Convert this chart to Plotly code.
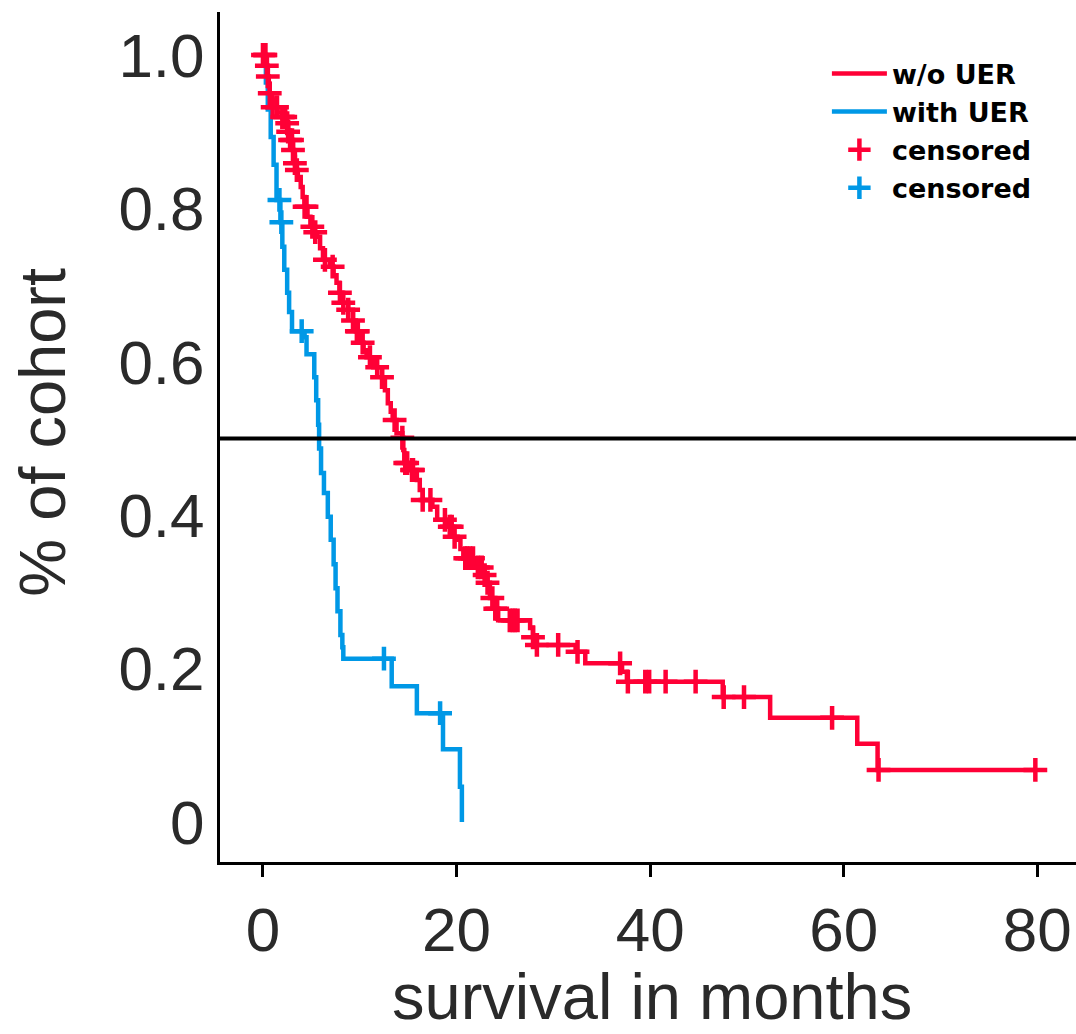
import numpy as np
import plotly.graph_objects as go

# ---- data ----
red_time = [0, 0.3, 0.4, 0.5, 0.6, 0.7, 0.9, 1.0, 1.5, 2.0, 2.4, 2.6, 2.8, 3.1, 3.2, 3.3, 3.5, 3.6,
            3.9, 4.1, 4.3, 4.6, 4.9, 5.3, 5.6, 5.9, 6.2, 6.9, 7.3, 7.6, 7.9, 8.2, 8.8, 9.3, 9.6,
            10.0, 10.4, 10.7, 11.4, 12.3, 12.6, 12.9, 13.2, 13.4, 13.8, 14.4, 14.5, 14.6, 15.2,
            15.9, 16.2, 16.5, 17.5, 18.0, 19.0, 19.6, 20.1, 20.4, 20.7, 22.1, 22.9, 23.2, 23.45,
            24.0, 24.3, 27.6, 27.9, 28.3, 32.3, 33.3, 37.1, 37.6, 47.5, 52.4, 61.4, 63.5]
red_surv = [1.0, 0.993, 0.986, 0.972, 0.962, 0.950, 0.942, 0.932, 0.925, 0.919, 0.911, 0.900,
            0.889, 0.876, 0.867, 0.859, 0.850, 0.841, 0.828, 0.815, 0.802, 0.789, 0.776, 0.769,
            0.763, 0.748, 0.733, 0.724, 0.713, 0.703, 0.690, 0.677, 0.668, 0.654, 0.640, 0.625,
            0.615, 0.606, 0.593, 0.580, 0.563, 0.546, 0.535, 0.524, 0.507, 0.501, 0.485, 0.468,
            0.459, 0.446, 0.433, 0.420, 0.411, 0.394, 0.385, 0.372, 0.368, 0.356, 0.344, 0.332,
            0.322, 0.312, 0.292, 0.278, 0.263, 0.253, 0.241, 0.231, 0.222, 0.207, 0.196, 0.183,
            0.163, 0.136, 0.102, 0.068]
red_censor = [0.0, 0.2, 0.25, 0.4, 0.5, 0.7, 1.0, 1.45, 2.0, 2.1, 2.3, 2.5, 2.6, 2.8, 3.0, 3.1,
              3.3, 3.5, 4.3, 4.5, 5.1, 5.4, 6.4, 7.2, 7.95, 8.3, 8.8, 9.3, 9.7, 9.8, 10.3, 11.05,
              11.8, 12.3, 13.6, 14.4, 14.7, 14.9, 15.4, 15.5, 16.5, 17.3, 18.8, 19.3, 19.5, 19.8,
              20.9, 21.1, 21.4, 21.7, 22.2, 22.6, 22.9, 23.2, 23.7, 24.0, 24.2, 25.5, 25.8, 26.0,
              26.3, 27.9, 28.3, 30.5, 32.5, 36.9, 37.7, 39.5, 39.9, 41.6, 44.7, 47.6, 49.7, 58.8,
              63.6, 79.8]

blue_time = [0, 0.3, 0.5, 0.8, 1.1, 1.4, 1.8, 2.0, 2.2, 2.5, 2.7, 3.0, 4.3, 4.5, 5.3, 5.5, 5.7,
             5.8, 6.0, 6.3, 6.7, 7.0, 7.3, 7.5, 7.7, 8.0, 8.2, 8.3, 13.3, 15.9, 18.6, 20.35, 20.55]
blue_surv = [1.0, 0.964, 0.929, 0.893, 0.857, 0.811, 0.782, 0.75, 0.72, 0.69, 0.665, 0.64,
             0.632, 0.61, 0.58, 0.55, 0.518, 0.487, 0.455, 0.429, 0.398, 0.368, 0.336, 0.305,
             0.275, 0.244, 0.228, 0.213, 0.177, 0.142, 0.095, 0.046, 0.0]
blue_censor = [1.7, 1.9, 4.0, 12.5, 18.3]

x_ticks = [0, 20, 40, 60, 80]
y_ticks = [0, 0.2, 0.4, 0.6, 0.8, 1.0]
y_ticklabels = ["0", "0.2", "0.4", "0.6", "0.8", "1.0"]
names = ["w/o UER", "with UER", "censored", "censored"]
x_title = "survival in months"
y_title = "% of cohort"

RED = "#FF0036"
BLUE = "#0098E6"
LW = 4.5


def surv_at(times, surv, t):
    idx = np.searchsorted(np.asarray(times), np.asarray(t), side="right") - 1
    return np.asarray(surv)[idx]


fig = go.Figure()

fig.add_trace(go.Scatter(x=blue_time, y=blue_surv, mode="lines", line=dict(color=BLUE, width=LW, shape="hv"),
                         name=names[1], legendrank=2))
red_x = red_time + [red_censor[-1]]
red_y = red_surv + [red_surv[-1]]
fig.add_trace(go.Scatter(x=red_x, y=red_y, mode="lines", line=dict(color=RED, width=LW, shape="hv"),
                         name=names[0], legendrank=1))
fig.add_trace(go.Scatter(x=blue_censor, y=surv_at(blue_time, blue_surv, blue_censor), mode="markers",
                         marker=dict(symbol="cross-thin", size=17, line=dict(color=BLUE, width=4.5)),
                         name=names[3], legendrank=4))
fig.add_trace(go.Scatter(x=red_censor, y=surv_at(red_time, red_surv, red_censor), mode="markers",
                         marker=dict(symbol="cross-thin", size=17, line=dict(color=RED, width=4.5)),
                         name=names[2], legendrank=3))

fig.add_hline(y=0.5, line=dict(color="black", width=4))

FONT = "Liberation Sans, Arial, sans-serif"
tick_font = dict(family=FONT, size=62, color="#2a2a2a")
title_font = dict(family=FONT, size=65, color="#2a2a2a")

fig.add_annotation(text=y_title, xref="paper", yref="paper", x=-0.207, y=0.506,
                   xanchor="center", yanchor="middle", textangle=-90, showarrow=False, font=title_font)
fig.add_annotation(text=x_title, xref="paper", yref="paper", x=0.505, y=-0.2023,
                   xanchor="center", yanchor="bottom", showarrow=False, font=title_font,
                   borderpad=0)

fig.update_layout(
    width=1076, height=1034,
    margin=dict(l=220, r=0, t=12, b=172, autoexpand=False),
    plot_bgcolor="white", paper_bgcolor="white",
    showlegend=True,
    legend=dict(x=0.709, y=0.956, xanchor="left", yanchor="top",
                font=dict(family="DejaVu Sans, sans-serif", size=27, color="black", weight="bold"),
                bgcolor="rgba(0,0,0,0)", itemwidth=55, tracegroupgap=0),
    xaxis=dict(range=[-4.44, 84.0], tickvals=x_ticks, showgrid=False, zeroline=False,
               showline=True, linecolor="black", linewidth=3, automargin=False,
               ticks="outside", ticklen=12, tickwidth=3, tickcolor="black",
               tickfont=tick_font, ticklabelstandoff=0),
    yaxis=dict(range=[-0.052, 1.056], tickvals=y_ticks, ticktext=y_ticklabels, showgrid=False, zeroline=False,
               showline=True, linecolor="black", linewidth=3, automargin=False,
               ticks="", tickfont=tick_font, ticklabelstandoff=0),
)

fig.write_html("out.html", config={"displayModeBar": False},
               post_script="document.body.style.margin='0px';document.body.style.overflow='hidden';")
